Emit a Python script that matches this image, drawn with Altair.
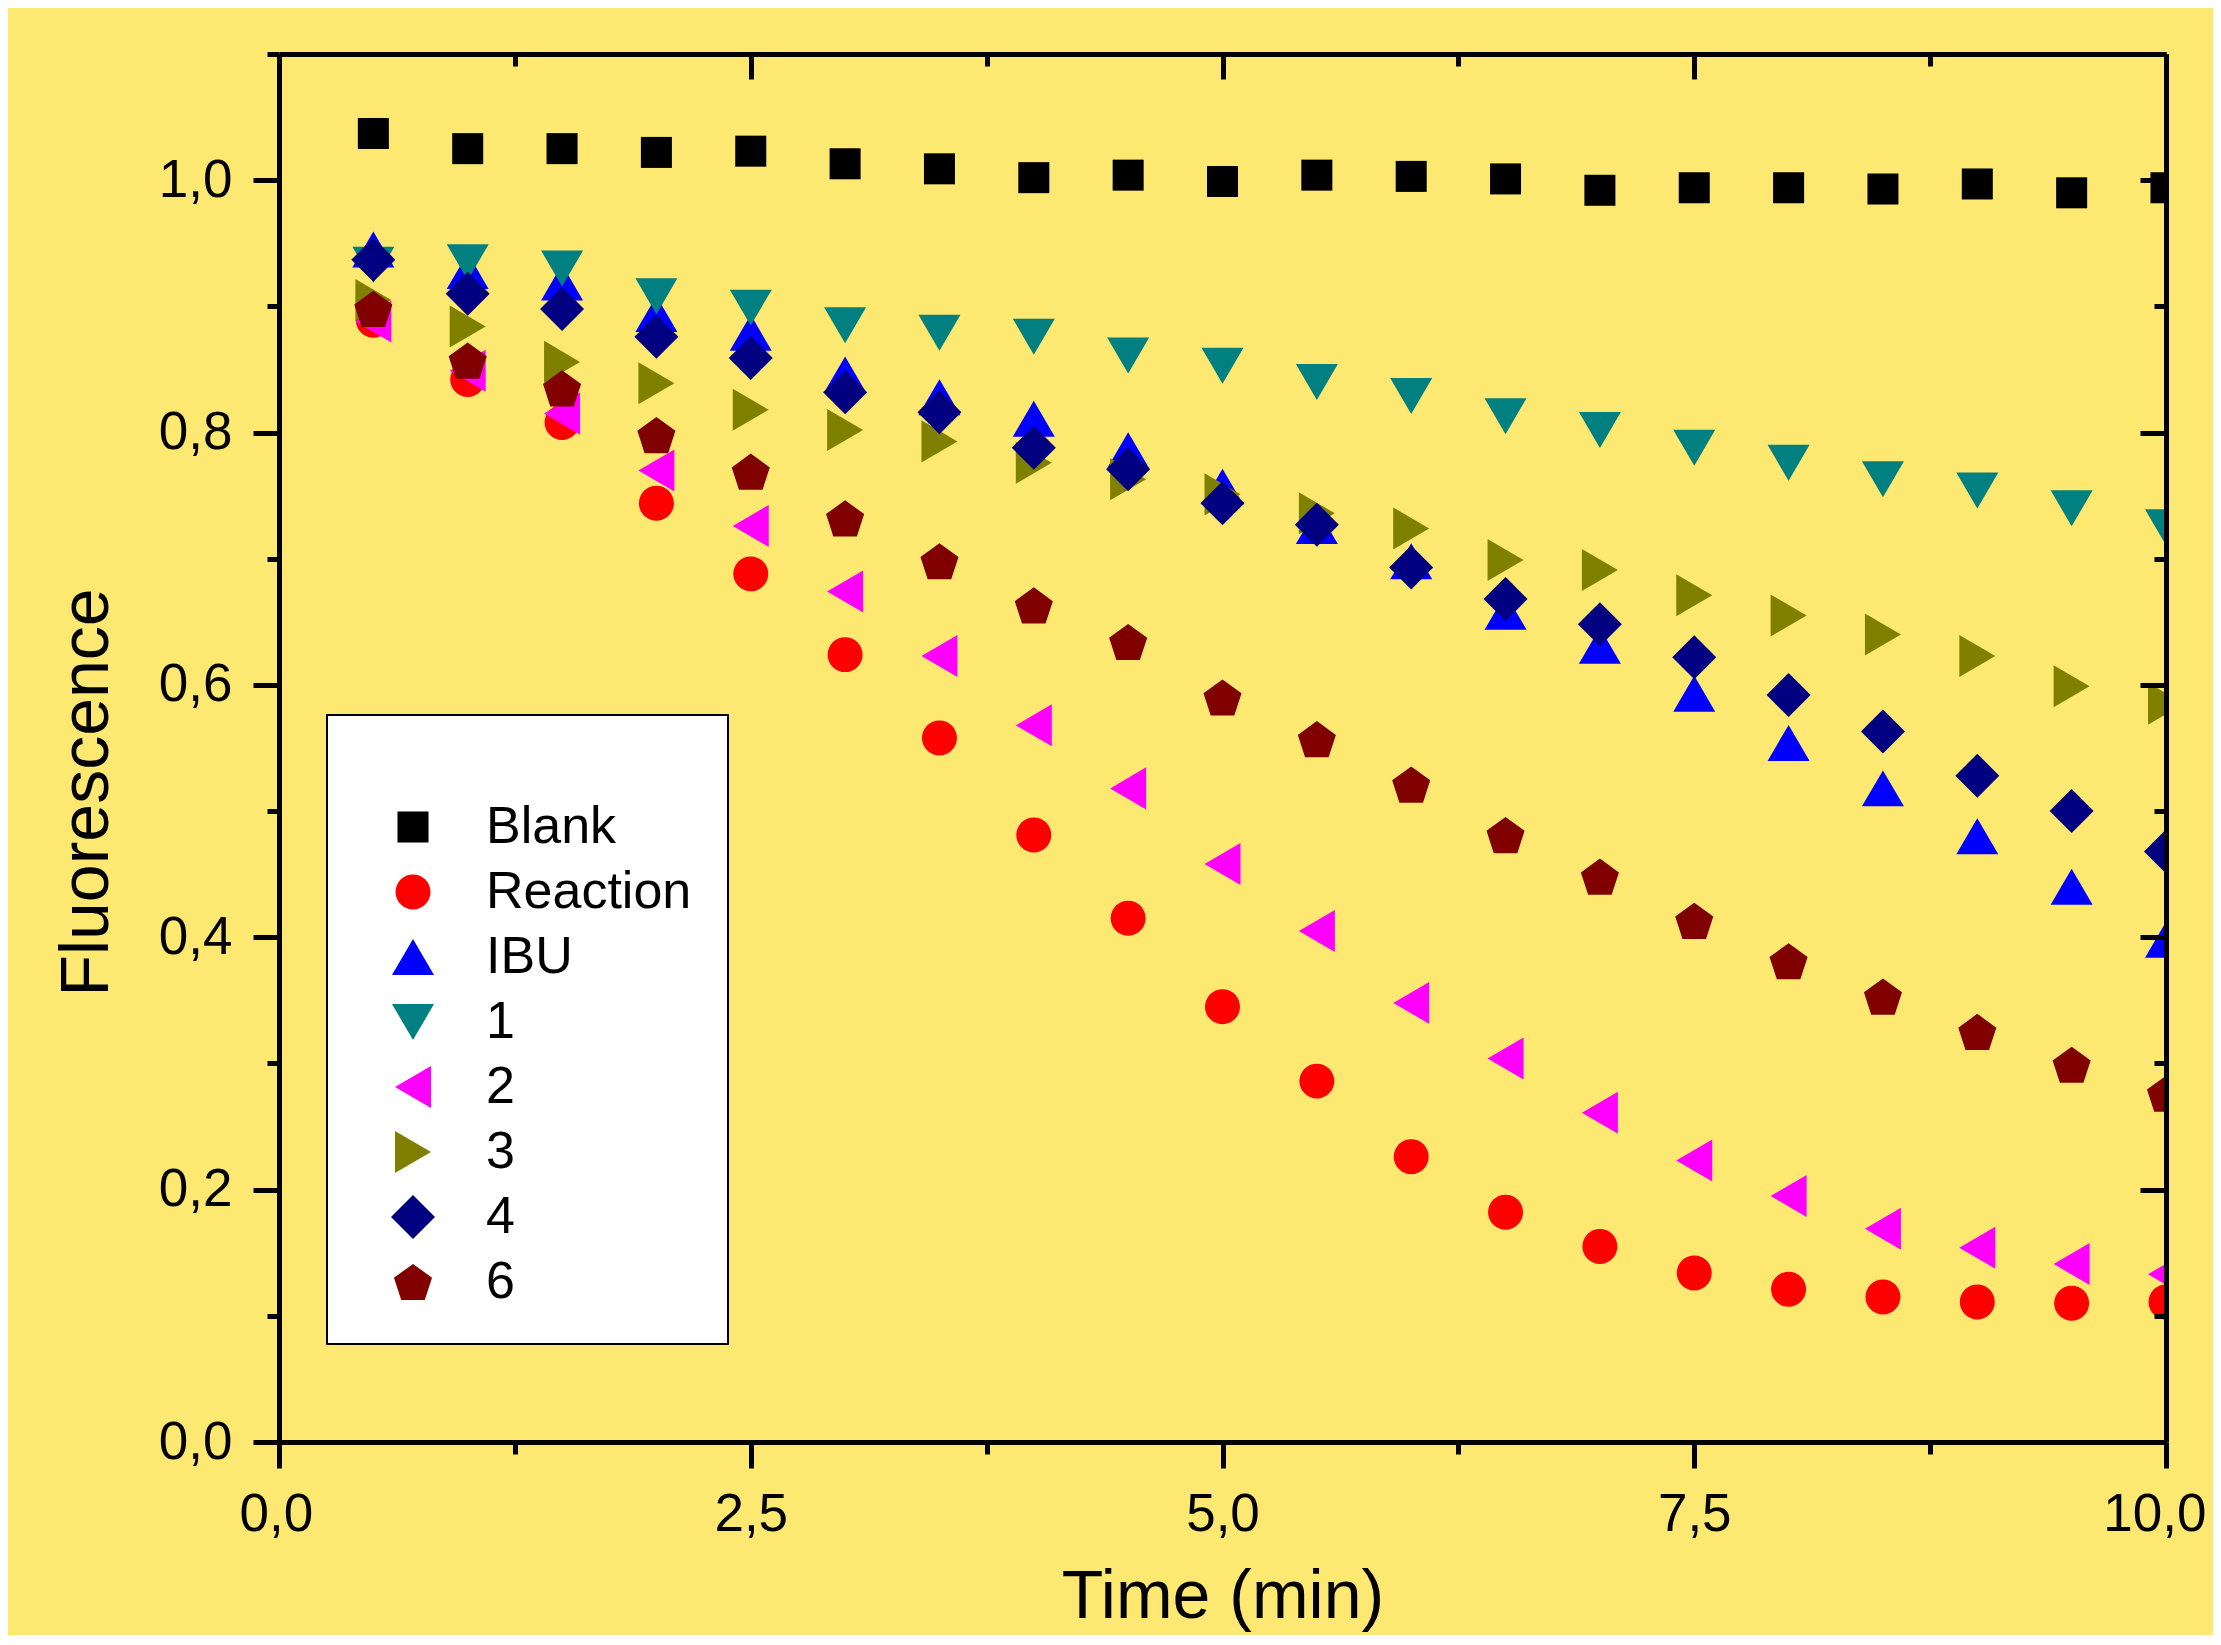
import altair as alt
import pandas as pd

# ---- data ----
times = [0.5, 1.0, 1.5, 2.0, 2.5, 3.0, 3.5, 4.0, 4.5, 5.0,
         5.5, 6.0, 6.5, 7.0, 7.5, 8.0, 8.5, 9.0, 9.5, 10.0]

blank = [1.037, 1.025, 1.025, 1.022, 1.023, 1.013, 1.009, 1.002, 1.004, 0.999,
         1.004, 1.003, 1.001, 0.992, 0.994, 0.994, 0.993, 0.997, 0.990, 0.994]
reaction = [0.889, 0.842, 0.808, 0.744, 0.688, 0.624, 0.558, 0.481, 0.415, 0.345,
            0.286, 0.226, 0.182, 0.155, 0.134, 0.121, 0.115, 0.111, 0.110, 0.111]
ibu = [0.945, 0.928, 0.919, 0.894, 0.879, 0.846, 0.828, 0.811, 0.786, 0.757,
       0.726, 0.698, 0.658, 0.631, 0.593, 0.554, 0.518, 0.480, 0.440, 0.398]
s1 = [0.933, 0.935, 0.930, 0.908, 0.899, 0.885, 0.879, 0.876, 0.861, 0.853,
      0.840, 0.829, 0.813, 0.802, 0.788, 0.776, 0.763, 0.754, 0.740, 0.725]
s2 = [0.888, 0.849, 0.815, 0.770, 0.726, 0.674, 0.623, 0.568, 0.518, 0.458,
      0.405, 0.348, 0.304, 0.261, 0.223, 0.195, 0.169, 0.154, 0.141, 0.133]
s3 = [0.905, 0.884, 0.856, 0.839, 0.818, 0.802, 0.793, 0.776, 0.763, 0.751,
      0.736, 0.724, 0.699, 0.691, 0.671, 0.655, 0.640, 0.623, 0.599, 0.585]
s4 = [0.937, 0.910, 0.898, 0.876, 0.859, 0.832, 0.816, 0.788, 0.771, 0.744,
      0.727, 0.693, 0.668, 0.648, 0.622, 0.592, 0.563, 0.528, 0.500, 0.468]
s6 = [0.898, 0.857, 0.835, 0.798, 0.769, 0.732, 0.698, 0.663, 0.634, 0.590,
      0.557, 0.521, 0.481, 0.448, 0.413, 0.381, 0.353, 0.325, 0.299, 0.276]

series_names = ["Blank", "Reaction", "IBU", "1", "2", "3", "4", "6"]
series_values = [blank, reaction, ibu, s1, s2, s3, s4, s6]
series_colors = ["#000000", "#FF0000", "#0000FF", "#008080",
                 "#FF00FF", "#808000", "#000080", "#800000"]
series_shapes = [
    "M-0.705,-0.705H0.705V0.705H-0.705Z",                                   # square
    "M-0.795,0A0.795,0.795,0,1,0,0.795,0A0.795,0.795,0,1,0,-0.795,0Z",     # circle
    "M0,-0.818L0.955,0.818L-0.955,0.818Z",                                  # triangle up
    "M0,0.818L0.955,-0.818L-0.955,-0.818Z",                                 # triangle down
    "M-0.818,0L0.818,-0.955L0.818,0.955Z",                                  # triangle left
    "M0.818,0L-0.818,-0.955L-0.818,0.955Z",                                 # triangle right
    "M0,-1L1,0L0,1L-1,0Z",                                                  # diamond
    "M0,-0.822L0.865,-0.194L0.535,0.822L-0.535,0.822L-0.865,-0.194Z",      # pentagon
]

x_tick_values = [0.0, 1.25, 2.5, 3.75, 5.0, 6.25, 7.5, 8.75, 10.0]
y_tick_values = [0.0, 0.1, 0.2, 0.3, 0.4, 0.5, 0.6, 0.7, 0.8, 0.9, 1.0, 1.1]

rows = []
for name, vals in zip(series_names, series_values):
    for t, v in zip(times, vals):
        rows.append({"t": t, "v": v, "series": name})
df = pd.DataFrame(rows)

# ---- layout ----
BG = "#FDE972"
FONT = "Liberation Sans"
W, H = 1887, 1388

x_major = "round(datum.value*4) % 2 == 0"
y_major = "round(datum.value*10) % 2 == 0"
x_label = f"{x_major} ? replace(format(datum.value, '.1f'), '.', ',') : ''"
y_label = f"{y_major} ? replace(format(datum.value, '.1f'), '.', ',') : ''"

xscale = alt.Scale(domain=[0, 10], nice=False, zero=False)
yscale = alt.Scale(domain=[0, 1.1], nice=False, zero=False)

bottom_axis = alt.Axis(
    orient="bottom", values=x_tick_values, labelExpr=x_label,
    tickSize={"condition": {"test": x_major, "value": 26}, "value": 12},
    tickWidth=5, domainWidth=5, labelFontSize=53, labelPadding=20,
    labelFlush=True, labelFlushOffset=40, labelOverlap=False, grid=False, zindex=1,
    title="Time (min)", titleFontSize=68, titleBaseline="alphabetic", titleY=175,
)
left_axis = alt.Axis(
    orient="left", values=y_tick_values, labelExpr=y_label,
    tickSize={"condition": {"test": y_major, "value": 26}, "value": 12},
    tickWidth=5, domainWidth=5, labelFontSize=53, labelPadding=21,
    labelFlush=False, labelOverlap=False, grid=False, zindex=1,
    title="Fluorescence", titleFontSize=68, titleAngle=270,
    titleBaseline="alphabetic", titleAlign="center", titleX=-172, titleY=738,
)
top_axis = alt.Axis(
    orient="bottom", offset=-H, values=x_tick_values, labels=False,
    tickSize={"condition": {"test": x_major, "value": 25}, "value": 12},
    tickWidth=5, domainWidth=5, grid=False, zindex=1, title="",
)
right_axis = alt.Axis(
    orient="left", offset=-W, values=y_tick_values, labels=False,
    tickSize={"condition": {"test": y_major, "value": 26}, "value": 12},
    tickWidth=5, domainWidth=5, grid=False, zindex=1, title="",
)

points = alt.Chart(df).mark_point(
    filled=True, size=1936, opacity=1, strokeWidth=0, clip=True
).encode(
    x=alt.X("t:Q", scale=xscale, axis=bottom_axis),
    y=alt.Y("v:Q", scale=yscale, axis=left_axis),
    color=alt.Color("series:N", scale=alt.Scale(domain=series_names, range=series_colors),
                    legend=alt.Legend(
                        title=" ", orient="none", legendX=48, legendY=661,
                        padding=36, fillColor="white", strokeColor="black",
                        labelFontSize=52, labelFont=FONT, labelColor="black",
                        labelLimit=600,
                        symbolSize=1936, symbolStrokeWidth=0,
                        symbolOffset=24, labelOffset=47,
                        rowPadding=13, titleFontSize=20, titlePadding=30,
                    )),
    shape=alt.Shape("series:N", scale=alt.Scale(domain=series_names, range=series_shapes)),
)

frame = alt.Chart(df).mark_point(opacity=0).encode(
    x=alt.X("t:Q", scale=xscale, axis=top_axis),
    y=alt.Y("v:Q", scale=yscale, axis=right_axis),
)

chart = alt.layer(frame, points).resolve_axis(
    x="independent", y="independent"
).properties(
    width=W, height=H,
    padding={"left": 271, "top": 46, "right": 47, "bottom": 193},
    autosize=alt.AutoSizeParams(type="none"),
    background=BG,
).configure_view(
    strokeWidth=0, fill=BG
).configure_axis(
    labelFont=FONT, titleFont=FONT, labelColor="black", titleColor="black",
    domainColor="black", tickColor="black", titleFontWeight="normal",
).configure_legend(
    strokeWidth=2, titleFont=FONT,
)

chart.save("out.html", embed_options={"renderer": "svg", "actions": False})
